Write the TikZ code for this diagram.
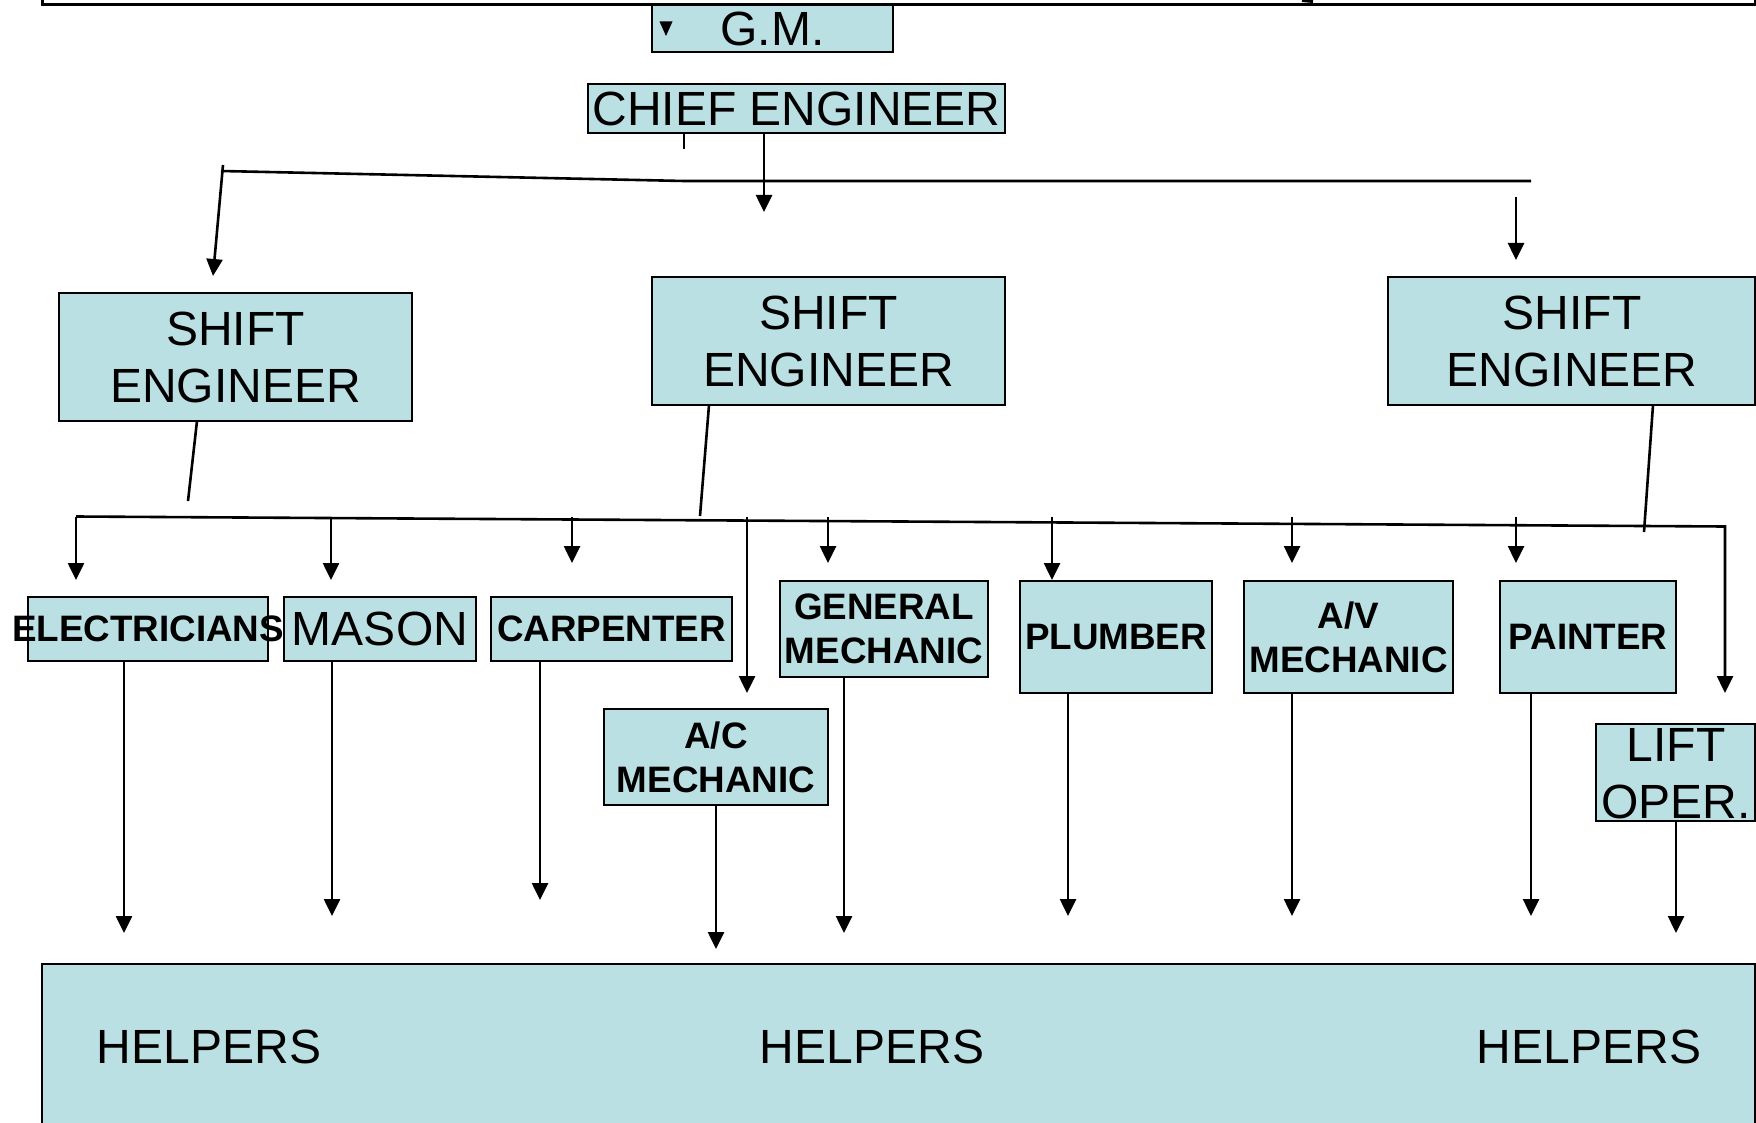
\documentclass[tikz,border=0pt]{standalone}
\usepackage{fontspec}
\setmainfont{Liberation Sans}
\usetikzlibrary{arrows.meta}
\definecolor{boxfill}{RGB}{187,224,227}
\begin{document}
\begin{tikzpicture}[x=1pt,y=-1pt,
  box/.style={draw, fill=boxfill, line width=2pt, inner sep=0pt, outer sep=0pt},
  big/.style={font=\fontsize{48}{57}\selectfont, align=center, inner sep=0pt},
  bld/.style={font=\fontsize{36.8}{44}\selectfont\bfseries, align=center, inner sep=0pt},
  arr/.style={-{Triangle[length=17pt,width=16pt]}, line width=2.6pt},
  ln/.style={line width=2.6pt}]
\clip (0,0) rectangle (1756,1123);
\fill[white] (0,0) rectangle (1756,1123);

% top frame
\draw[line width=3pt] (42,-10) -- (42,4.5) -- (1755,4.5) -- (1755,-10);
\draw[line width=3pt] (1302,0.5) -- (1313,1.5);

% boxes
\node[box, minimum width=241pt, minimum height=47pt] (gm) at (772.5,28.5) {};
\node[box, minimum width=417pt, minimum height=49pt] (chief) at (796.5,108.5) {};
\node[box, minimum width=353pt, minimum height=128pt] (se1) at (235.5,357) {};
\node[box, minimum width=353pt, minimum height=128pt] (se2) at (828.5,341) {};
\node[box, minimum width=367pt, minimum height=128pt] (se3) at (1571.5,341) {};
\node[box, minimum width=240pt, minimum height=64pt] (elec) at (148,629) {};
\node[box, minimum width=192pt, minimum height=64pt] (mason) at (380,629) {};
\node[box, minimum width=241pt, minimum height=64pt] (carp) at (611.5,629) {};
\node[box, minimum width=208pt, minimum height=96pt] (gen) at (884,629) {};
\node[box, minimum width=224pt, minimum height=96pt] (ac) at (716,757) {};
\node[box, minimum width=192pt, minimum height=112pt] (plumb) at (1116,637) {};
\node[box, minimum width=209pt, minimum height=112pt] (av) at (1348.5,637) {};
\node[box, minimum width=176pt, minimum height=112pt] (paint) at (1588,637) {};
\node[box, minimum width=159pt, minimum height=97pt] (lift) at (1675.5,772.5) {};
\node[box, minimum width=1713pt, minimum height=200pt, anchor=north west] (helpers) at (42,964) {};

% triangle mark in G.M.
\fill (659.5,21.5) -- (672.5,21.5) -- (666,36) -- cycle;

% texts
\node[big] (gmt) at (gm) {G.M.};
\node[big] (chieft) at (chief) {CHIEF ENGINEER};
\node[big] (se1t) at (se1) {SHIFT\\ENGINEER};
\node[big] (se2t) at (se2) {SHIFT\\ENGINEER};
\node[big] (se3t) at (1572,341) {SHIFT\\ENGINEER};
\node[bld] (elect) at (elec) {ELECTRICIANS};
\node[big] (masont) at (mason) {MASON};
\node[bld] (carpt) at (carp) {CARPENTER};
\node[bld] (gent) at (gen) {GENERAL\\MECHANIC};
\node[bld] (act) at (ac) {A/C\\MECHANIC};
\node[bld] (plumbt) at (plumb) {PLUMBER};
\node[bld] (avt) at (av) {A/V\\MECHANIC};
\node[bld] (paintt) at (paint) {PAINTER};
\node[big] (liftt) at (1676,774) {LIFT\\OPER.};
\node[big] (h1) at (209,1047) {HELPERS};
\node[big] (h2) at (872,1047) {HELPERS};
\node[big] (h3) at (1589,1047) {HELPERS};

% chief engineer connectors
\coordinate (ct) at (684,149);
\coordinate (ca) at (764,212);
\draw[ln] ([xshift=96pt]chief.south west) -- (ct);
\draw[arr] ([xshift=176pt]chief.south west) -- (ca);
\coordinate (hA) at (221,171);
\coordinate (hB) at (684,181);
\coordinate (hC) at (1531,181);
\draw[ln] (hA) -- (hB) -- (hC);
\coordinate (lA) at (223,165);
\coordinate (lB) at (213,276);
\draw[arr] (lA) -- (lB);
\coordinate (rA) at (1516,197);
\coordinate (rB) at (1516,260);
\draw[arr] (rA) -- (rB);

% shift engineer connectors
\coordinate (s1) at (188,501);
\coordinate (s2) at (700,516);
\coordinate (s3) at (1644,532);
\draw[ln] ([xshift=138pt]se1.south west) -- (s1);
\draw[ln] ([xshift=57pt]se2.south west) -- (s2);
\draw[ln] ([xshift=265pt]se3.south west) -- (s3);

% bus
\coordinate (bL) at (76,516.5);
\coordinate (bR) at (1725,526.5);
\coordinate (tLift) at (1725,693);
\draw[arr] (bL) -- (bR) -- (tLift);
\coordinate (tElec) at (76,580);
\draw[arr] (bL) -- (tElec);
\coordinate (d2) at (331,516.5);  \coordinate (e2) at (331,580);
\coordinate (d3) at (572,516.5);  \coordinate (e3) at (572,563);
\coordinate (d4) at (747,516.5);  \coordinate (e4) at (747,693);
\coordinate (d5) at (828,516.5);  \coordinate (e5) at (828,563);
\coordinate (d6) at (1052,516.5); \coordinate (e6) at (1052,580);
\coordinate (d7) at (1292,516.5); \coordinate (e7) at (1292,563);
\coordinate (d8) at (1516,516.5); \coordinate (e8) at (1516,563);
\foreach \i in {2,...,8} {\draw[arr] (d\i) -- (e\i);}

% to helpers
\coordinate (p1) at (124,933);
\coordinate (p2) at (332,916);
\coordinate (p3) at (540,900);
\coordinate (p4) at (716,949);
\coordinate (p5) at (844,933);
\coordinate (p6) at (1068,916);
\coordinate (p7) at (1292,916);
\coordinate (p8) at (1531,916);
\coordinate (p9) at (1676,933);
\draw[arr] ([xshift=96pt]elec.south west) -- (p1);
\draw[arr] ([xshift=48pt]mason.south west) -- (p2);
\draw[arr] ([xshift=49pt]carp.south west) -- (p3);
\draw[arr] ([xshift=112pt]ac.south west) -- (p4);
\draw[arr] ([xshift=64pt]gen.south west) -- (p5);
\draw[arr] ([xshift=48pt]plumb.south west) -- (p6);
\draw[arr] ([xshift=48pt]av.south west) -- (p7);
\draw[arr] ([xshift=31pt]paint.south west) -- (p8);
\draw[arr] ([xshift=80pt]lift.south west) -- (p9);
\end{tikzpicture}
\end{document}
